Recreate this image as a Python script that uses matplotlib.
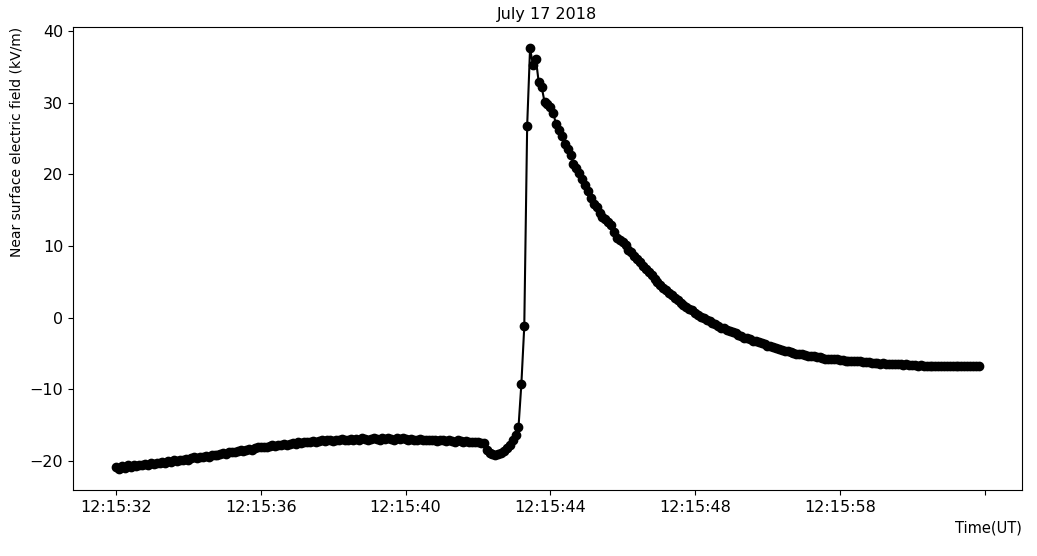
import numpy as np
import matplotlib
matplotlib.use("Agg")
import matplotlib.pyplot as plt

# near surface electric field (kV/m), sampled every 0.08 s from 12:15:32 UT
sample_dt = 0.08

pre_stroke = [
    -20.8, -21.1, -20.7, -20.9, -20.6, -20.8, -20.5, -20.7, -20.5, -20.6,
    -20.4, -20.5, -20.3, -20.4, -20.2, -20.3, -20.1, -20.2, -20.0, -20.1,
    -19.9, -20.0, -19.8, -19.9, -19.7, -19.8, -19.6, -19.5, -19.6, -19.4,
    -19.4, -19.3, -19.4, -19.2, -19.1, -19.2, -19.0, -18.9, -19.0, -18.8,
    -18.7, -18.8, -18.6, -18.5, -18.6, -18.4, -18.3, -18.4, -18.2, -18.1,
    -18.1, -18.0, -18.1, -17.9, -17.8, -17.9, -17.7, -17.8, -17.6, -17.7,
    -17.6, -17.5, -17.6, -17.4, -17.5, -17.3, -17.4, -17.3, -17.2, -17.3,
    -17.2, -17.1, -17.2, -17.0, -17.1, -17.2, -17.0, -17.1, -16.9, -17.0,
    -17.1, -16.9, -17.0, -16.9, -17.0, -16.8, -16.9, -17.0, -16.9, -16.8,
    -16.9, -17.0, -16.8, -16.9, -16.8, -16.9, -17.0, -16.8, -16.9, -16.8,
    -16.9, -17.0, -16.9, -17.0, -17.1, -16.9, -17.0, -17.1, -17.0, -17.1,
    -17.1, -17.2, -17.0, -17.1, -17.2, -17.1, -17.2, -17.3, -17.1, -17.2,
    -17.3, -17.2, -17.3, -17.4, -17.3, -17.4, -17.5, -17.5, -18.4, -18.9,
    -19.0, -19.1, -19.0, -18.9, -18.6, -18.2, -17.8, -17.0, -16.4, -15.3,
]

stroke = [-9.2, -1.2, 26.8, 37.6, 35.2, 36.1, 32.8, 32.2, 30.1]

recovery = [
    29.8, 29.4, 28.5, 27.0, 26.2, 25.3, 24.2, 23.5, 22.7, 21.5,
    20.9, 20.2, 19.3, 18.5, 17.6, 16.7, 15.8, 15.5, 14.6, 14.1,
    13.7, 13.4, 12.9, 12.0, 11.1, 10.9, 10.5, 10.1, 9.4, 9.1,
    8.6, 8.2, 7.7, 7.2, 6.8, 6.4, 5.9, 5.4, 5.0, 4.6,
    4.2, 3.9, 3.5, 3.1, 2.8, 2.5, 2.1, 1.8, 1.5, 1.2,
    1.0, 0.7, 0.4, 0.1, -0.1, -0.3, -0.5, -0.7, -0.9, -1.1,
    -1.4, -1.5, -1.7, -1.9, -2.0, -2.2, -2.4, -2.6, -2.8, -2.9,
    -3.0, -3.2, -3.3, -3.4, -3.5, -3.7, -3.9, -4.0, -4.1, -4.3,
    -4.4, -4.5, -4.6, -4.7, -4.8, -4.9, -5.0, -5.1, -5.1, -5.2,
    -5.3, -5.3, -5.4, -5.5, -5.5, -5.6, -5.7, -5.7, -5.7, -5.8,
    -5.8, -5.9, -5.9, -6.0, -6.0, -6.0, -6.1, -6.1, -6.1, -6.2,
    -6.2, -6.2, -6.3, -6.3, -6.3, -6.4, -6.3, -6.4, -6.4, -6.4,
    -6.5, -6.5, -6.5, -6.6, -6.5, -6.6, -6.6, -6.6, -6.7, -6.6,
    -6.7, -6.7, -6.7, -6.8, -6.7, -6.7, -6.8, -6.7, -6.8, -6.7,
    -6.8, -6.8, -6.7, -6.8, -6.8, -6.7, -6.8, -6.8, -6.8, -6.8,
]

tick_pos = [0, 4, 8, 12, 16, 20, 24]
tick_labels = ['12:15:32', '12:15:36', '12:15:40', '12:15:44', '12:15:48', '12:15:58', '']

field = np.array(pre_stroke + stroke + recovery)
t = np.arange(len(field)) * sample_dt

fig = plt.figure(figsize=(10.37, 5.56), dpi=100)
ax = fig.add_axes([0.0704, 0.1187, 0.915, 0.8327])

ax.plot(t, field, color='k', marker='o', markersize=6, linewidth=1.5)

ax.set_xticks(tick_pos)
ax.set_xticklabels(tick_labels)
ax.tick_params(labelsize=11.5)
ax.set_title('July 17 2018', fontsize=11.5)
ax.set_xlabel('Time(UT)', loc='right', fontsize=10.5)
ax.set_ylabel('Near surface electric field (kV/m)', loc='top', fontsize=10)

fig.savefig('out.png', dpi=100)
